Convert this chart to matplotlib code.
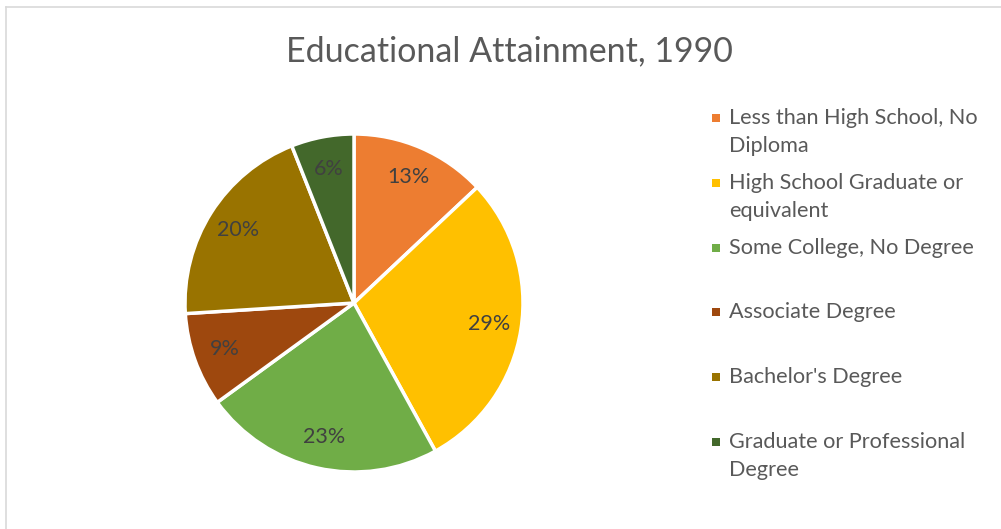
import matplotlib.pyplot as plt
from matplotlib.lines import Line2D
from matplotlib.patches import Rectangle

plt.rcParams['font.family'] = ['Lato', 'DejaVu Sans']

categories = [
    "Less than High School, No\nDiploma",
    "High School Graduate or\nequivalent",
    "Some College, No Degree",
    "Associate Degree",
    "Bachelor's Degree",
    "Graduate or Professional\nDegree",
]
shares = [13, 29, 23, 9, 20, 6]
colors = ['#ED7D31', '#FFC000', '#70AD47', '#9E480E', '#997300', '#43682B']

W, H = 1001, 529
fig = plt.figure(figsize=(W / 100, H / 100), dpi=100)

# chart border (only top and left visible in the crop)
fig.add_artist(Line2D([5.5 / W, 1.0], [1 - 6.5 / H, 1 - 6.5 / H], color='#d9d9d9', lw=1.2))
fig.add_artist(Line2D([5.5 / W, 5.5 / W], [0.0, 1 - 6.5 / H], color='#d9d9d9', lw=1.2))

fig.text(509 / W, 1 - 51 / H, "Educational Attainment, 1990", ha='center', va='center',
         fontsize=24.5, color='#595959')

# pie
cx, cy, r = 354, 303, 169
ax = fig.add_axes([(cx - r) / W, (H - cy - r) / H, 2 * r / W, 2 * r / H])
wedges, texts, autotexts = ax.pie(
    shares, colors=colors, startangle=90, counterclock=False,
    autopct='%1.0f%%', pctdistance=0.81,
    wedgeprops=dict(edgecolor='white', linewidth=2.5),
    textprops=dict(fontsize=15.5, color='#404040'),
)
ax.set_xlim(-1.0, 1.0)
ax.set_ylim(-1.0, 1.0)
ax.set_aspect('equal')

# legend
mx, tx = 716, 729
y0, dy, line_h = 118, 64.8, 28
for i, (lab, col) in enumerate(zip(categories, colors)):
    y = y0 + i * dy
    fig.add_artist(Rectangle(((mx - 4) / W, 1 - (y + 4) / H), 8 / W, 8 / H,
                             transform=fig.transFigure, facecolor=col, edgecolor='none'))
    for j, line in enumerate(lab.split('\n')):
        fig.text(tx / W, 1 - (y + j * line_h) / H, line, ha='left', va='center',
                 fontsize=15.6, color='#595959')

fig.savefig('out.png', dpi=100, facecolor='white')
